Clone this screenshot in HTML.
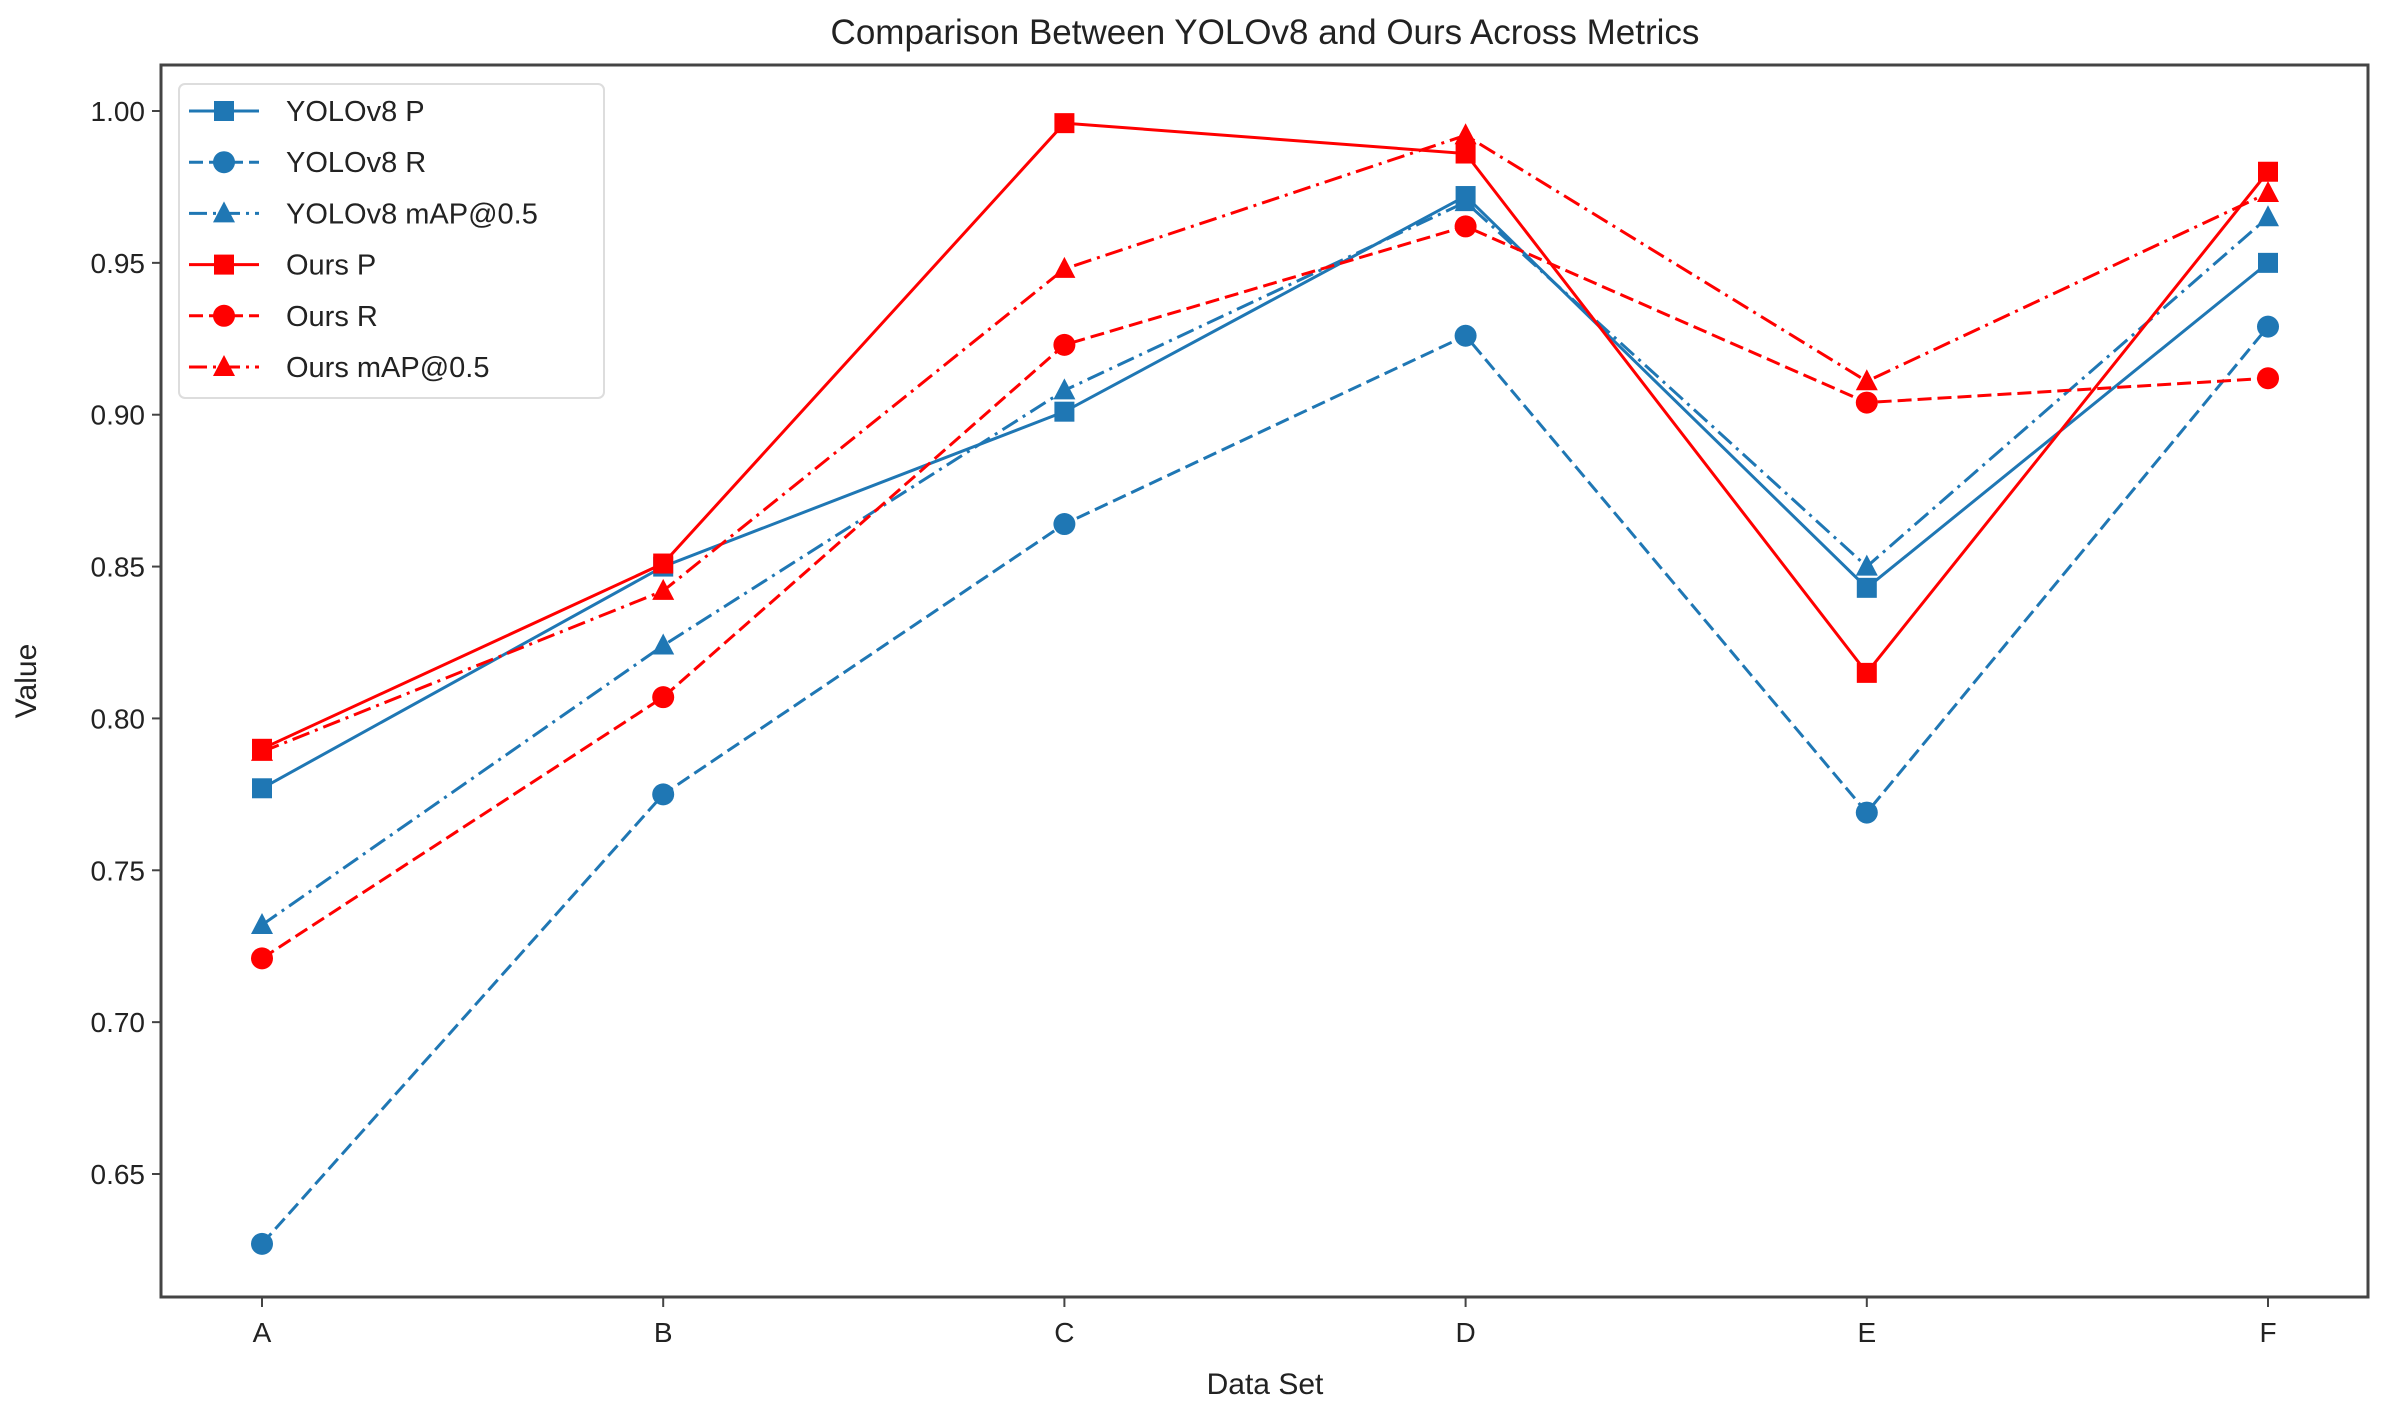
<!DOCTYPE html>
<html><head><meta charset="utf-8"><style>
body{margin:0;background:#fff;}
svg{display:block;font-family:"Liberation Sans","DejaVu Sans",sans-serif;}
</style></head><body>
<svg id="chart" width="2385" height="1406" viewBox="0 0 2385 1406">
<text x="1265" y="44" font-size="35" fill="#222" text-anchor="middle">Comparison Between YOLOv8 and Ours Across Metrics</text>
<g id="plot"></g>
<text x="1265" y="1394" font-size="30" fill="#222" text-anchor="middle">Data Set</text>
<text x="36" y="681" font-size="30" fill="#222" text-anchor="middle" transform="rotate(-90 36 681)">Value</text>
</svg>
<script>
const categories=["A","B","C","D","E","F"];
const yTicks=[0.65,0.70,0.75,0.80,0.85,0.90,0.95,1.00];
const seriesNames=["YOLOv8 P","YOLOv8 R","YOLOv8 mAP@0.5","Ours P","Ours R","Ours mAP@0.5"];
const yoloP=[0.777,0.850,0.901,0.972,0.843,0.950];
const yoloR=[0.627,0.775,0.864,0.926,0.769,0.929];
const yoloMap=[0.732,0.824,0.908,0.970,0.850,0.965];
const oursP=[0.790,0.851,0.996,0.986,0.815,0.980];
const oursR=[0.721,0.807,0.923,0.962,0.904,0.912];
const oursMap=[0.789,0.842,0.948,0.992,0.911,0.973];

const NS="http://www.w3.org/2000/svg";
const L=161,R=2368,T=65,B=1297;
const xS=i=>262+i*(2268-262)/(categories.length-1);
const yS=v=>111+(1-v)*(1174-111)/0.35;
const g=document.getElementById('plot');
function mk(t,a,p){const e=document.createElementNS(NS,t);for(const k in a)e.setAttribute(k,a[k]);(p||g).appendChild(e);return e;}

const styles=[
 {data:yoloP,c:"#1f77b4",d:"",m:"s"},
 {data:yoloR,c:"#1f77b4",d:"14,6",m:"o"},
 {data:yoloMap,c:"#1f77b4",d:"18,6,3,6",m:"^"},
 {data:oursP,c:"#ff0000",d:"",m:"s"},
 {data:oursR,c:"#ff0000",d:"14,6",m:"o"},
 {data:oursMap,c:"#ff0000",d:"18,6,3,6",m:"^"}
];
function marker(type,x,y,c,p){
 let e;
 if(type==="s")e=mk('rect',{x:x-10,y:y-10,width:20,height:20,fill:c},p);
 else if(type==="o")e=mk('circle',{cx:x,cy:y,r:11,fill:c},p);
 else e=mk('polygon',{points:`${x},${y-12} ${x+11},${y+9} ${x-11},${y+9}`,fill:c},p);
 return e;
}
// ticks
yTicks.forEach(v=>{
 const y=yS(v);
 const t=mk('line',{x1:L-9,x2:L,y1:y,y2:y,stroke:"#444","stroke-width":2});
 
 
 const tx=mk('text',{x:L-16,y:y+10,"font-size":28,fill:"#222","text-anchor":"end"});
 tx.textContent=v.toFixed(2);
 
 
});
categories.forEach((c,i)=>{
 const x=xS(i);
 const t=mk('line',{x1:x,x2:x,y1:B,y2:B+10,stroke:"#444","stroke-width":2});
 
 
 const tx=mk('text',{x:x,y:B+45,"font-size":28,fill:"#222","text-anchor":"middle"});
 tx.textContent=c;
 
 
});
// series
styles.forEach((s,k)=>{
 const sg=mk('g',{});
 
 
 const pts=s.data.map((v,i)=>xS(i)+","+yS(v)).join(" ");
 const pl=mk('polyline',{points:pts,fill:"none",stroke:s.c,"stroke-width":3,"stroke-dasharray":s.d||"none"},sg);
 
 
 s.data.forEach((v,i)=>{
  const m=marker(s.m,xS(i),yS(v),s.c,sg);
  
  
 });
});
// frame
const fr=mk('rect',{x:L,y:T,width:R-L,height:B-T,fill:"none",stroke:"#444","stroke-width":3});


// legend
const lg=mk('g',{});


mk('rect',{x:179,y:84,width:425,height:314,rx:6,fill:"#fff","fill-opacity":0.85,stroke:"#ddd","stroke-width":2},lg);
styles.forEach((s,k)=>{
 const y=111+k*51.2;
 const e=mk('g',{},lg);
 
 
 mk('line',{x1:189,x2:259,y1:y,y2:y,stroke:s.c,"stroke-width":3,"stroke-dasharray":s.d||"none"},e);
 marker(s.m,224,y,s.c,e);
 const t=mk('text',{x:286,y:y+10,"font-size":29,fill:"#222"},e);
 t.textContent=seriesNames[k];
});
</script>
</body></html>
